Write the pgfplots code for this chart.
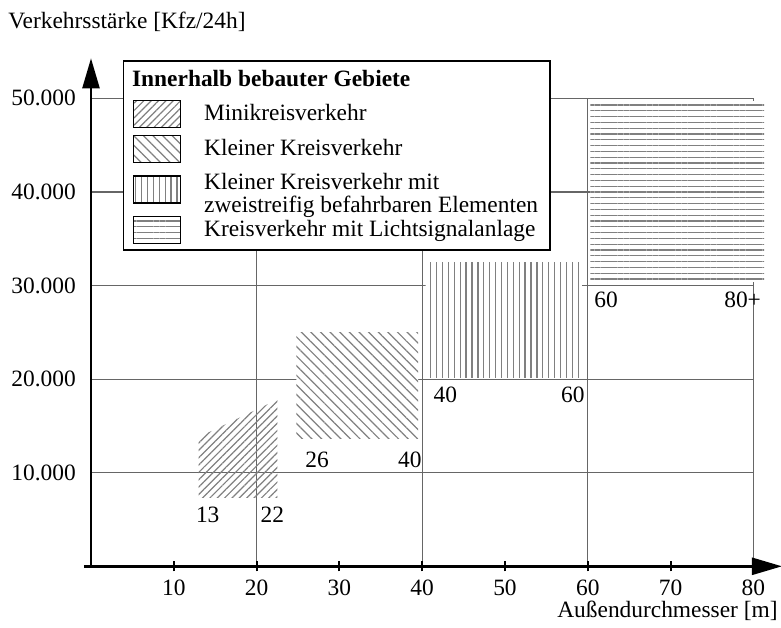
\documentclass[border=0pt]{standalone}
\usepackage{fontspec}
\setmainfont{Liberation Serif}
\usepackage{pgfplots}
\pgfplotsset{compat=1.18}
\usetikzlibrary{patterns.meta,arrows.meta}

\begin{document}
\fontsize{11.7}{14}\selectfont
\begin{tikzpicture}
\begin{axis}[
  name=ax,
  scale only axis,
  width=331.2pt, height=234pt,
  xmin=0, xmax=80, ymin=0, ymax=50000,
  clip=false,
  axis lines=left,
  axis line style={line width=1.2pt, -{Triangle[length=15pt,width=8.5pt]}},
  x axis line style={shorten >=-14.3pt, shorten <=-3.5pt},
  y axis line style={shorten >=-20pt},
  xtick={10,20,...,80},
  minor xtick={20,40,60,80},
  ytick={10000,20000,30000,40000,50000},
  yticklabels={10.000,20.000,30.000,40.000,50.000},
  scaled y ticks=false,
  xminorgrids=true, ymajorgrids=true, xmajorgrids=false,
  grid style={black!60, line width=0.6pt},
  minor grid style={black!60, line width=0.6pt},
  minor tick length=0pt,
  tick align=center,
  major tick length=5pt,
  x tick style={black, line width=1pt},
  y tick style={draw=none},
  yticklabel style={xshift=-1pt},
  /pgf/number format/assume math mode=true,
  legend style={at={(0.0479,1.0818)}, anchor=north west, draw=black, line width=0.8pt,
    fill=white, inner xsep=4.5pt, inner ysep=3pt, row sep=3.6pt, nodes={inner sep=1.5pt}},
  legend cell align=left,
  legend image code/.code={\draw[#1, draw=black, line width=0.6pt] (0pt,-6.75pt) rectangle (23.5pt,6.75pt); \path (34pt,0pt);},
]
\addlegendimage{empty legend}
\addlegendentry{\hspace*{-36pt}\textbf{Innerhalb bebauter Gebiete}}

% Minikreisverkehr
\addplot[draw=none, pattern={Lines[angle=45,distance=2.6pt,line width=0.6pt]}, pattern color=black!50]
  coordinates {(13,7300) (22.5,7300) (22.5,17800) (13,13800) (13,7300)};
\addlegendentry{Minikreisverkehr}

% Kleiner Kreisverkehr
\addplot[draw=none, preaction={fill=white}, pattern={Lines[angle=-45,distance=3.4pt,line width=0.6pt]}, pattern color=black!50]
  coordinates {(24.8,13700) (39.5,13700) (39.5,25000) (24.8,25000) (24.8,13700)};
\addlegendentry{Kleiner Kreisverkehr}

% Kleiner Kreisverkehr mit zweistreifig befahrbaren Elementen
\addplot[draw=none, preaction={fill=white}, pattern={Lines[angle=90,distance=2.95pt,line width=0.65pt]}, pattern color=black!50]
  coordinates {(40.4,20200) (59.3,20200) (59.3,32500) (40.4,32500) (40.4,20200)};
\addlegendentry{{\def\arraystretch{0.72}\begin{tabular}{@{}l@{}}Kleiner Kreisverkehr mit\\zweistreifig befahrbaren Elementen\end{tabular}}}

% Kreisverkehr mit Lichtsignalanlage
\addplot[draw=none, preaction={fill=white}, pattern={Lines[angle=0,distance=2.9pt,line width=0.65pt]}, pattern color=black!50]
  coordinates {(60.3,30400) (81.3,30400) (81.3,49700) (60.3,49700) (60.3,30400)};
\addlegendentry{Kreisverkehr mit Lichtsignalanlage}

\node at (axis cs:14.1,5480) {13};
\node at (axis cs:21.9,5480) {22};
\node at (axis cs:27.3,11360) {26};
\node at (axis cs:38.5,11360) {40};
\node at (axis cs:42.8,18300) {40};
\node at (axis cs:58.2,18300) {60};
\node at (axis cs:62.2,28450) {60};
\node at (axis cs:78.7,28450) {80+};
\end{axis}
\node[anchor=west, inner sep=0pt] at ([shift={(-41.5pt,272.2pt)}]ax.south west) {Verkehrsstärke [Kfz/24h]};
\node[anchor=east, inner sep=0pt] at ([shift={(343.5pt,-22.5pt)}]ax.south west) {Außendurchmesser [m]};
\pgfresetboundingbox
\path[use as bounding box] ([shift={(-45.5pt,-30.35pt)}]ax.south west) rectangle ([shift={(345pt,283.15pt)}]ax.south west);
\end{tikzpicture}
\end{document}
